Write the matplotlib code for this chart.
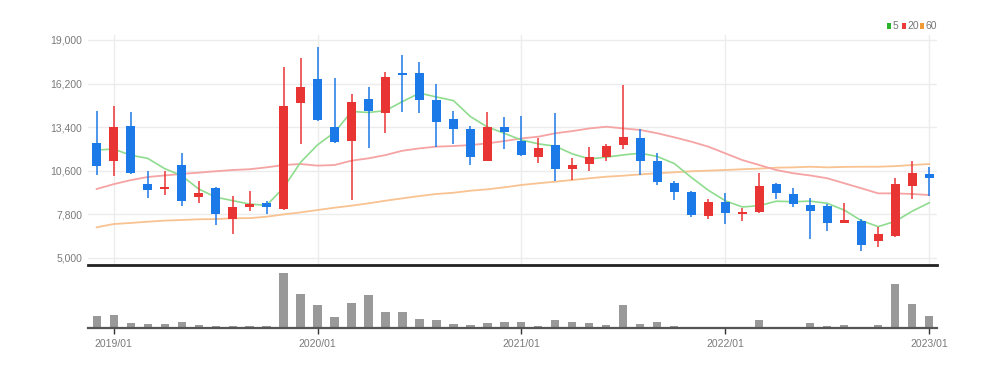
#!/usr/bin/env python3
"""Monthly candlestick chart with 5/20/60 moving averages and volume panel."""
import matplotlib.pyplot as plt
import numpy as np
from matplotlib.patches import Rectangle

plt.rcParams["font.family"] = [
    "Liberation Sans Narrow", "Liberation Sans", "DejaVu Sans",
]

MONTHS = [
    "2018/12",
    "2019/01", "2019/02", "2019/03", "2019/04", "2019/05", "2019/06",
    "2019/07", "2019/08", "2019/09", "2019/10", "2019/11", "2019/12",
    "2020/01", "2020/02", "2020/03", "2020/04", "2020/05", "2020/06",
    "2020/07", "2020/08", "2020/09", "2020/10", "2020/11", "2020/12",
    "2021/01", "2021/02", "2021/03", "2021/04", "2021/05", "2021/06",
    "2021/07", "2021/08", "2021/09", "2021/10", "2021/11", "2021/12",
    "2022/01", "2022/02", "2022/03", "2022/04", "2022/05", "2022/06",
    "2022/07", "2022/08", "2022/09", "2022/10", "2022/11", "2022/12",
    "2023/01",
]
OPEN = [
    12380, 11250, 13470, 9730, 9430, 10970, 8900, 9510, 7500, 8260,
    8510, 8150, 14930, 16490, 13430, 12510, 15190, 14290, 16830, 16900,
    15140, 13900, 13280, 11250, 13430, 12530, 11460, 12260, 10690, 11010,
    11500, 12260, 12680, 11230, 9830, 9220, 7720, 8620, 7850, 7930,
    9750, 9110, 8400, 8340, 7270, 7400, 6090, 6410, 9640, 10370,
]
HIGH = [
    14440, 14760, 14350, 10590, 10600, 11760, 9940, 9550, 8950, 9300,
    8680, 17240, 17860, 18570, 16580, 15510, 15960, 16960, 18030, 17560,
    16170, 14460, 13500, 14350, 14030, 14120, 12680, 14330, 11440, 12150,
    12340, 16100, 13280, 11720, 9940, 9300, 8790, 9150, 8230, 10480,
    9800, 9470, 8830, 8470, 8510, 7490, 6970, 10120, 11230, 10830,
]
LOW = [
    10330, 10280, 10400, 8830, 9050, 8360, 8550, 7120, 6530, 8040,
    7810, 8100, 12320, 13800, 12400, 8720, 12040, 13010, 14390, 14330,
    12110, 12300, 10970, 11200, 12000, 11550, 11120, 9940, 10010, 10600,
    11230, 12000, 10330, 9690, 8720, 7610, 7490, 7180, 7400, 7900,
    8770, 8250, 6200, 6750, 7230, 5470, 5690, 6380, 8770, 9000,
]
CLOSE = [
    10910, 13430, 10440, 9370, 9550, 8660, 9150, 7810, 8250, 8450,
    8260, 14760, 16000, 13860, 12430, 14990, 14440, 16600, 16770, 15140,
    13750, 13280, 11460, 13430, 13110, 11610, 12040, 10690, 10970, 11500,
    12190, 12750, 11250, 9900, 9220, 7760, 8620, 7870, 7910, 9640,
    9190, 8470, 8040, 7230, 7440, 5830, 6540, 9730, 10480, 10150,
]
MA5 = [
    11930, 12000, 11600, 11400, 10740, 10290, 9434, 8908, 8684, 8464,
    8384, 9506, 11144, 12266, 13062, 14408, 14344, 14464, 15046, 15588,
    15340, 15108, 14080, 13412, 13006, 12578, 12330, 12176, 11684, 11362,
    11478, 11620, 11732, 11518, 11062, 10176, 9350, 8674, 8276, 8360,
    8646, 8616, 8650, 8514, 8074, 7402, 7016, 7354, 8004, 8546,
]
MA20 = [
    9430, 9740, 10000, 10200, 10300, 10400, 10480, 10570, 10650, 10700,
    10820, 10970, 11035, 10930, 10970, 11250, 11400, 11610, 11890, 12040,
    12150, 12190, 12250, 12360, 12510, 12680, 12790, 13010, 13150, 13320,
    13430, 13320, 13220, 13010, 12750, 12470, 12150, 11720, 11290, 10970,
    10650, 10440, 10300, 10120, 9800, 9480, 9150, 9150, 9110, 9045,
]
MA60 = [
    6970, 7180, 7250, 7330, 7400, 7440, 7485, 7500, 7550, 7560,
    7650, 7800, 7930, 8080, 8230, 8360, 8510, 8680, 8830, 8980,
    9110, 9190, 9320, 9410, 9540, 9690, 9800, 9900, 10010, 10120,
    10220, 10285, 10370, 10440, 10500, 10570, 10610, 10650, 10700, 10740,
    10800, 10820, 10860, 10820, 10850, 10860, 10860, 10900, 10970, 11035,
]
# thousand shares
VOLUME = [
    123, 130, 50, 43, 43, 63, 30, 23, 23, 23,
    23, 550, 343, 233, 113, 247, 330, 160, 160, 93,
    77, 43, 30, 50, 60, 63, 23, 77, 60, 50,
    30, 233, 43, 60, 23, 10, 10, 10, 10, 77,
    10, 10, 50, 23, 33, 13, 30, 443, 243, 117,
]
TICK_MONTHS = ["2019/01", "2020/01", "2021/01", "2022/01", "2023/01"]
PRICE_TICKS = [5000, 7800, 10600, 13400, 16200, 19000]

UP = "#e93434"
DOWN = "#1c79e8"
MA_COLORS = {"5": "#8fdc8f", "20": "#f5a3a3", "60": "#f8c291"}
LEGEND_COLORS = {"5": "#2cb52c", "20": "#ec3b3b", "60": "#f09a3a"}

W, H = 998, 369


def box(left, top, right, bottom):
    # pixel box -> figure fraction [l, b, w, h]
    return [left / W, 1 - bottom / H, (right - left) / W, (bottom - top) / H]


def main():
    fig = plt.figure(figsize=(W / 100, H / 100), dpi=100)
    ax = fig.add_axes(box(88, 35, 937, 265))
    axv = fig.add_axes(box(88, 268, 937, 328), sharex=ax)

    x = np.arange(len(MONTHS))
    o, hi, lo, c = (np.array(v, dtype=float) for v in (OPEN, HIGH, LOW, CLOSE))
    colors = np.where(c >= o, UP, DOWN)

    ax.plot(x, MA60, color=MA_COLORS["60"], lw=1.3, zorder=2)
    ax.plot(x, MA20, color=MA_COLORS["20"], lw=1.3, zorder=2)
    ax.plot(x, MA5, color=MA_COLORS["5"], lw=1.2, zorder=2)

    ax.vlines(x, lo, hi, colors=colors, lw=1.1, zorder=3)
    body = np.maximum(np.abs(c - o), 110)
    ax.bar(x, body, bottom=np.minimum(o, c), width=0.52, color=colors,
           lw=0, zorder=4)

    tick_idx = [MONTHS.index(m) for m in TICK_MONTHS]
    ax.set_xlim(-0.51, 49.46)
    ax.set_ylim(4550, 19320)
    ax.set_yticks(PRICE_TICKS)
    ax.set_yticklabels([f"{v:,}" for v in PRICE_TICKS])
    ax.set_xticks(tick_idx)
    ax.grid(True, color="#ececec", lw=1, zorder=0)
    ax.tick_params(axis="y", length=0, pad=4, labelsize=7.5, labelcolor="#7a7a7a")
    ax.tick_params(axis="x", length=0, labelbottom=False)
    for side in ("top", "right", "left"):
        ax.spines[side].set_visible(False)
    ax.spines["bottom"].set_color("#222222")
    ax.spines["bottom"].set_linewidth(2)

    axv.bar(x, VOLUME, width=0.48, color="#999999", lw=0, zorder=2)
    axv.set_ylim(0, 600)
    axv.set_yticks([])
    axv.set_xticks(tick_idx)
    axv.set_xticklabels(TICK_MONTHS)
    axv.tick_params(axis="x", length=4, width=1, color="#333333", pad=4,
                    labelsize=7.5, labelcolor="#7a7a7a")
    for side in ("top", "right", "left"):
        axv.spines[side].set_visible(False)
    axv.spines["bottom"].set_color("#555555")
    axv.spines["bottom"].set_linewidth(1.6)

    # legend in the top right corner
    for label, sq_x, txt_x in (("5", 887, 893), ("20", 902, 907), ("60", 920, 926)):
        fig.add_artist(Rectangle(
            (sq_x / W, 1 - 29 / H), 4 / W, 6 / H,
            transform=fig.transFigure, color=LEGEND_COLORS[label], lw=0,
        ))
        fig.text(txt_x / W, 1 - 26 / H, label, fontsize=7.5, color="#777777",
                 ha="left", va="center")

    fig.savefig("out.png", dpi=100, facecolor="white")
    plt.close(fig)


if __name__ == "__main__":
    main()
